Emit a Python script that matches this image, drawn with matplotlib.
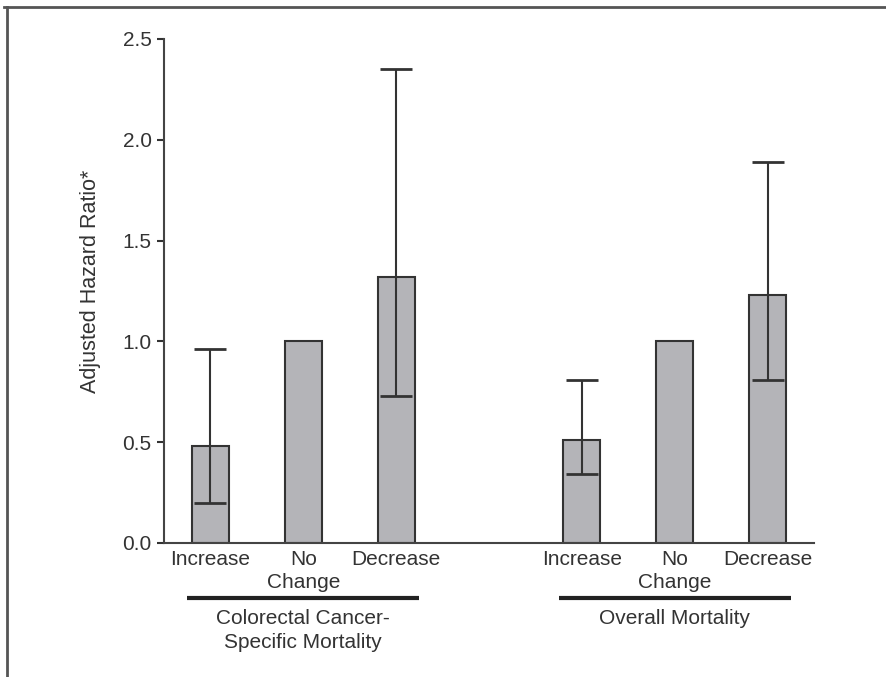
import matplotlib
matplotlib.use("Agg")
import matplotlib.pyplot as plt
import matplotlib.transforms as mtransforms
from matplotlib.lines import Line2D
import numpy as np

plt.rcParams['font.family'] = ['Liberation Sans', 'DejaVu Sans']

# ---- data ----
categories = ["Increase", "No\nChange", "Decrease"]
groups = ["Colorectal Cancer-\nSpecific Mortality", "Overall Mortality"]
crc_hr = [0.48, 1.00, 1.32]
crc_low = [0.20, None, 0.73]
crc_high = [0.96, None, 2.35]
overall_hr = [0.51, 1.00, 1.23]
overall_low = [0.34, None, 0.81]
overall_high = [0.81, None, 1.89]
yticks = [0.0, 0.5, 1.0, 1.5, 2.0, 2.5]
ylabel = "Adjusted Hazard Ratio*"

text_color = "#333333"
edge = "#333333"
bar_color = "#b4b4b8"
FS = 15

W, H = 886, 677
fig = plt.figure(figsize=(W / 100, H / 100), dpi=100)
ax = fig.add_axes([164 / W, 1 - 543 / H, (814 - 164) / W, (543 - 39) / H])

group_offsets = [0, 4]
all_hr = [crc_hr, overall_hr]
all_low = [crc_low, overall_low]
all_high = [crc_high, overall_high]

xt, xl = [], []
for g, off in enumerate(group_offsets):
    xs = np.arange(len(categories)) + off
    ax.bar(xs, all_hr[g], width=0.4, color=bar_color, edgecolor=edge, linewidth=1.5, zorder=2)
    for x, v, lo, hi in zip(xs, all_hr[g], all_low[g], all_high[g]):
        if lo is None:
            continue
        ax.errorbar([x], [v], yerr=[[v - lo], [hi - v]], fmt='none', ecolor=edge,
                    elinewidth=1.5, capsize=11.5, capthick=2, zorder=3)
    xt.extend(xs)
    xl.extend(categories)

ax.set_xlim(-0.5, 6.5)
ax.set_ylim(0, 2.5)
ax.set_yticks(yticks)
ax.set_yticklabels([f"{t:.1f}" for t in yticks], fontsize=FS, color=text_color)
ax.set_xticks(xt)
ax.set_xticklabels(xl, fontsize=FS, color=text_color, linespacing=1.25)
ax.tick_params(axis='x', length=0, pad=5)
ax.tick_params(axis='y', length=5, width=1.5, color=edge, pad=4)
for s in ["top", "right"]:
    ax.spines[s].set_visible(False)
for s in ["left", "bottom"]:
    ax.spines[s].set_linewidth(1.5)
    ax.spines[s].set_color("#444444")
ax.set_ylabel(ylabel, fontsize=15.5, color=text_color)
ax.yaxis.set_label_coords(-0.097, 0.52)

# group brackets and labels
trans = mtransforms.blended_transform_factory(ax.transData, ax.transAxes)
for g, off in enumerate(group_offsets):
    c = off + 1
    ax.plot([c - 1.25, c + 1.25], [-0.109, -0.109], color="#222222", lw=3,
            transform=trans, clip_on=False, solid_capstyle='butt')
    ax.text(c, -0.131, groups[g], transform=trans, ha='center', va='top',
            fontsize=FS, color=text_color, linespacing=1.3)

# figure border (top and left)
fig.add_artist(Line2D([4 / W, 1.0], [1 - 6.5 / H, 1 - 6.5 / H], color="#555555", lw=2,
                      transform=fig.transFigure))
fig.add_artist(Line2D([7 / W, 7 / W], [0, 1 - 6.5 / H], color="#555555", lw=2,
                      transform=fig.transFigure))

fig.savefig("out.png", dpi=100)
